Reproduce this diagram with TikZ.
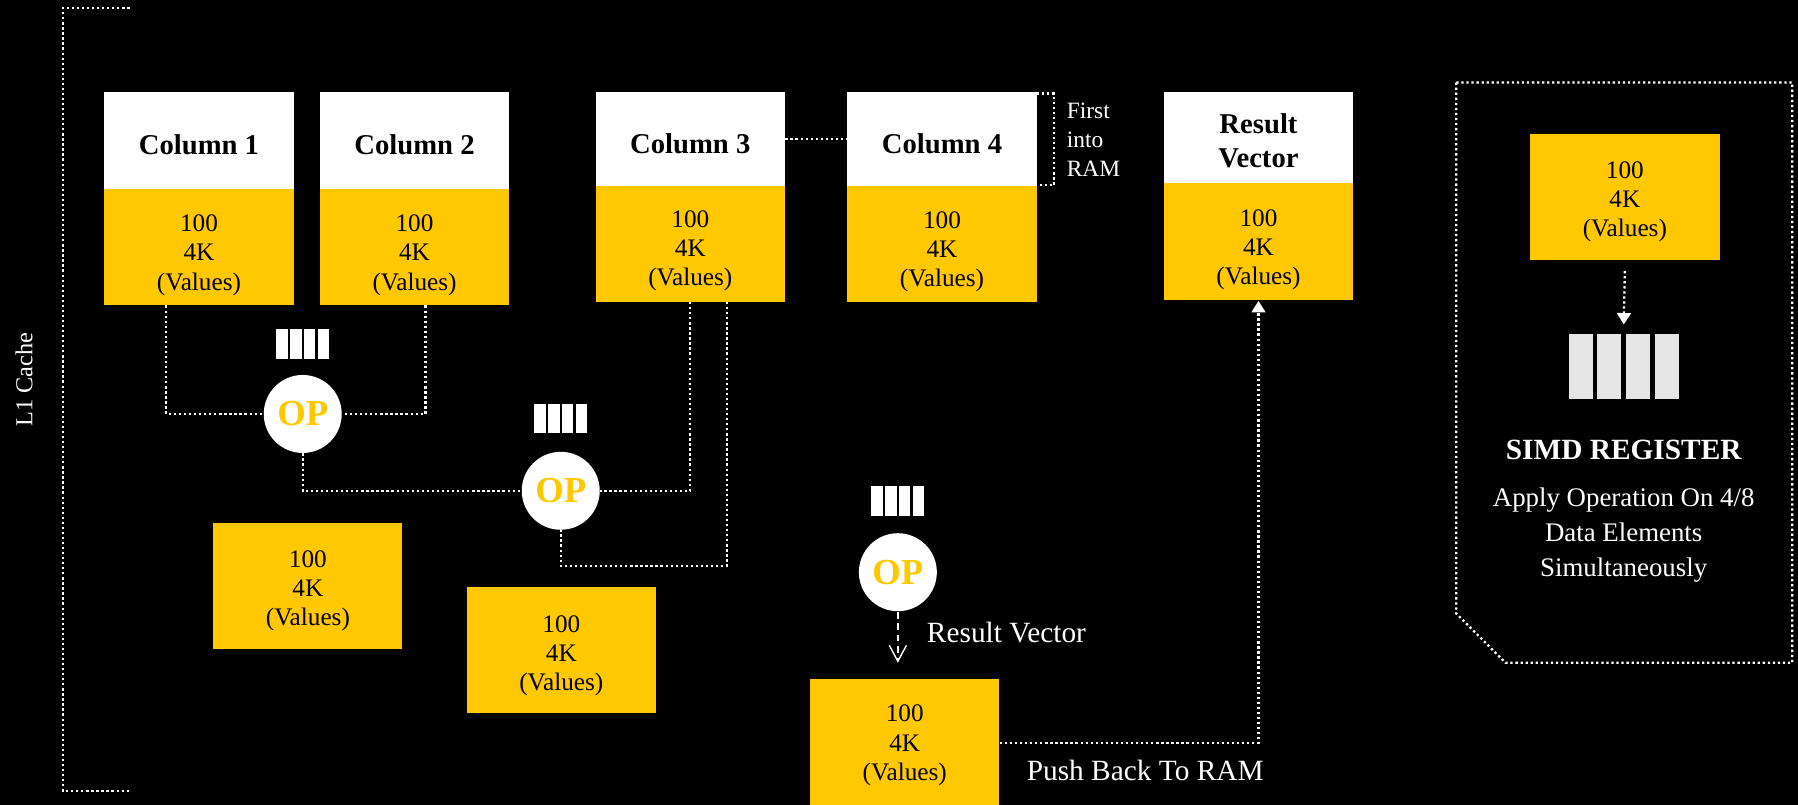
\documentclass[tikz,border=0pt]{standalone}
\usepackage{fontspec}
\setmainfont{Liberation Serif}
\usetikzlibrary{arrows.meta,calc}
\definecolor{gold}{RGB}{255,200,0}
\definecolor{regray}{RGB}{230,230,230}
\begin{document}
\begin{tikzpicture}[x=0.5pt,y=-0.5pt,
 dl/.style={white, line width=1pt, dash pattern=on 1pt off 1.2pt},
 hdr/.style={fill=white, minimum width=82.5pt, inner sep=0pt},
 htxt/.style={text=black, font=\fontsize{12.5}{15}\selectfont\bfseries, inner sep=0pt, align=center},
 ybox/.style={fill=gold, minimum width=82.5pt, inner sep=0pt},
 vals/.style={text=black, font=\fontsize{11}{12.75}\selectfont, inner sep=0pt, align=center},
 op/.style={circle, fill=white, text=gold, font=\fontsize{16}{18}\selectfont\bfseries, minimum size=34pt, inner sep=0pt},
 wbar/.style={fill=white, minimum width=5pt, minimum height=13pt, inner sep=0pt},
 gbar/.style={fill=regray, minimum width=10.5pt, minimum height=28.5pt, inner sep=0pt},
 lbl/.style={text=white, font=\fontsize{12.8}{15}\selectfont, inner sep=0pt}
]
\fill[black] (0,0) rectangle (1568,702);
\useasboundingbox (0,0) rectangle (1568,702);

% L1 cache bracket
\draw[dl] (113,7) -- (55,7) -- (55,690) -- (113,690);
\node[lbl, rotate=90, font=\fontsize{10.6}{12}\selectfont] (l1) at (21,331) {L1 Cache};

% Columns
\node[hdr, minimum height=42.5pt] (c1h) at (173.5,122.5) {};
\node[htxt] (c1ht) at ([yshift=-2pt]c1h.center) {Column 1};
\node[ybox, minimum height=50.5pt] (c1b) at (173.5,215.5) {};
\node[vals] (c1t) at ([yshift=-3.5pt]c1b.center) {100\\4K\\(Values)};

\node[hdr, minimum height=42.5pt] (c2h) at (361.5,122.5) {};
\node[htxt] (c2ht) at ([yshift=-2pt]c2h.center) {Column 2};
\node[ybox, minimum height=50.5pt] (c2b) at (361.5,215.5) {};
\node[vals] (c2t) at ([yshift=-3.5pt]c2b.center) {100\\4K\\(Values)};

\node[hdr, minimum height=41pt] (c3h) at (602,121) {};
\node[htxt] (c3ht) at ([yshift=-2pt]c3h.center) {Column 3};
\node[ybox, minimum height=50.5pt] (c3b) at (602,212.5) {};
\node[vals] (c3t) at ([yshift=-3pt]c3b.center) {100\\4K\\(Values)};

\node[hdr, minimum height=41pt] (c4h) at (821.5,121) {};
\node[htxt] (c4ht) at ([yshift=-2pt]c4h.center) {Column 4};
\node[ybox, minimum height=50.5pt] (c4b) at (821.5,212.5) {};
\node[vals] (c4t) at ([yshift=-3.5pt]c4b.center) {100\\4K\\(Values)};

\node[hdr, minimum height=40pt] (rvh) at (1097.5,120) {};
\node[htxt] (rvht) at ([yshift=-1.5pt]rvh.center) {Result\\Vector};
\node[ybox, minimum height=51pt] (rvb) at (1097.5,211) {};
\node[vals] (rvt) at ([yshift=-3.5pt]rvb.center) {100\\4K\\(Values)};

% column 3 - column 4 link and "first into RAM" bracket
\draw[dl] (c3h.east) -- (c4h.west);
\draw[dl] ([yshift=-1pt]c4h.north east) -- ++(7.5pt,0) |- (c4b.north east);
\node[lbl, anchor=west, align=left, font=\fontsize{10.2}{12.5}\selectfont] (first) at (930,122) {First\\into\\RAM};

% OP nodes
\node[op] (op1) at (264,361) {OP};
\node[op] (op2) at (489,428) {OP};
\node[op] (op3) at (783,499) {OP};

% small register bars above OPs
\foreach \n/\cx/\cy in {a/264/300, b/489/365, c/783/437}{
  \node[wbar] (\n1) at (\cx-18,\cy) {};
  \node[wbar] (\n2) at (\cx-6,\cy) {};
  \node[wbar] (\n3) at (\cx+6,\cy) {};
  \node[wbar] (\n4) at (\cx+18,\cy) {};
}

% intermediate boxes
\node[ybox, minimum height=55pt] (ba) at (268.5,511) {};
\node[vals] (bat) at ([yshift=-2pt]ba.center) {100\\4K\\(Values)};
\node[ybox, minimum height=55pt] (bb) at (489.5,567) {};
\node[vals] (bbt) at ([yshift=-2.5pt]bb.center) {100\\4K\\(Values)};
\node[ybox, minimum height=56pt] (rbox) at (789,648) {};
\node[vals] (rboxt) at ([yshift=-1pt]rbox.center) {100\\4K\\(Values)};

% connectors
\draw[dl] ([xshift=-14.25pt]c1b.south) |- (op1.west);
\draw[dl] ([xshift=4.75pt]c2b.south) |- (op1.east);
\draw[dl] (op1.south) |- (op2.west);
\draw[dl] (c3b.south) |- (op2.east);
\draw[dl] ([xshift=16pt]c3b.south) |- ([yshift=-15.5pt]op2.south) -- (op2.south);

% result vector arrow
\coordinate (rvtip) at (783,578);
\draw[white, line width=0.6pt, dash pattern=on 3pt off 2pt, -{Straight Barb[length=7pt,width=7.5pt]}] (op3.south) -- (rvtip);
\node[lbl, anchor=west] (rvl) at (808,552) {Result Vector};

% push back to RAM
\draw[dl, -{Triangle[length=5pt,width=6pt]}] (rbox.east) -| (rvb.south);
\node[lbl, anchor=west] (push) at (895,672) {Push Back To RAM};

% SIMD panel
\draw[dl] (1270,72) -- (1563,72) -- (1563,578) -- (1313,578) -- (1270,535) -- cycle;
\node[ybox, minimum width=83pt, minimum height=55pt] (sbox) at (1417,172) {};
\node[vals] (sboxt) at ([yshift=-2pt]sbox.center) {100\\4K\\(Values)};
\node[gbar] (g1) at (1378.5,319.5) {};
\node[gbar] (g2) at (1403.5,319.5) {};
\node[gbar] (g3) at (1428.5,319.5) {};
\node[gbar] (g4) at (1453.5,319.5) {};
\coordinate (gtop) at (1416,283);
\draw[dl, -{Triangle[length=5pt,width=6pt]}] ([yshift=-4.5pt]sbox.south) -- (gtop);
\node[lbl, font=\fontsize{12.8}{15}\selectfont\bfseries] (simd) at (1416,392) {SIMD REGISTER};
\node[lbl, align=center, font=\fontsize{11.7}{15.25}\selectfont] (desc) at (1416,467) {Apply Operation On 4/8\\Data Elements\\Simultaneously};
\end{tikzpicture}
\end{document}
